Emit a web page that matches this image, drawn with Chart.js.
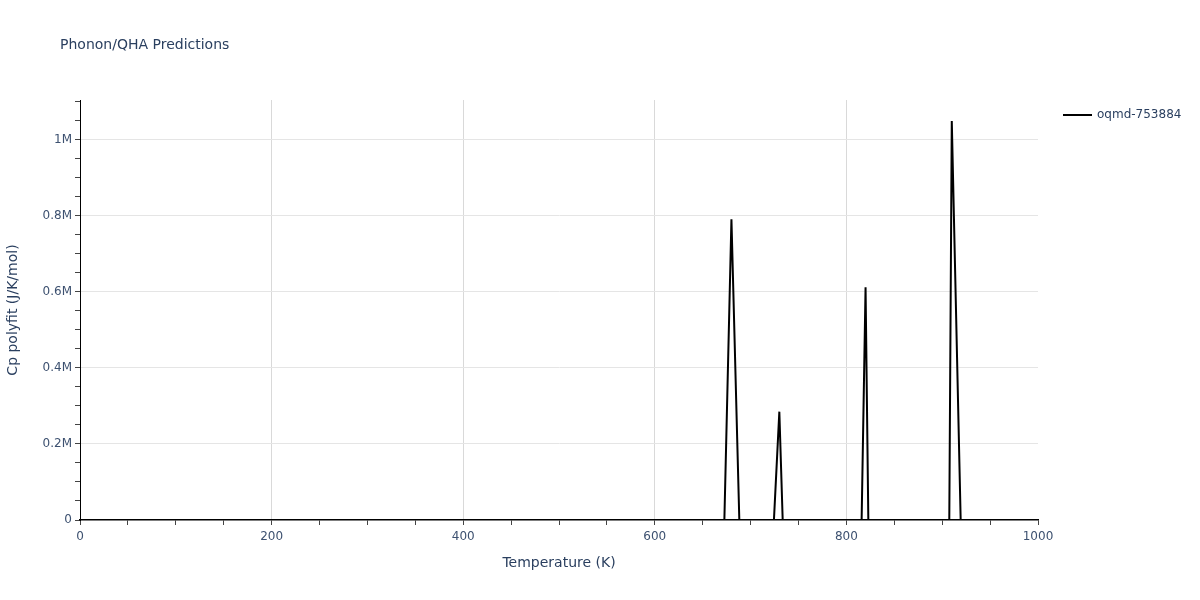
<!DOCTYPE html>
<html>
<head>
<meta charset="utf-8">
<script src="https://cdn.jsdelivr.net/npm/chart.js@4.4.1/dist/chart.umd.min.js"></script>
<style>
  html, body { margin: 0; padding: 0; background: #fff; }
  #wrap { width: 1200px; height: 600px; position: relative; }
</style>
</head>
<body>
<div id="wrap"><canvas id="c" width="1200" height="600"></canvas></div>
<script>
// ---- data ----
const chartTitle = "Phonon/QHA Predictions";
const seriesName = "oqmd-753884";
const xTitle = "Temperature (K)";
const yTitle = "Cp polyfit (J/K/mol)";

const temperatures = [
  0, 10, 20, 30, 40, 50, 60, 70, 80, 90,
  100, 110, 120, 130, 140, 150, 160, 170, 180, 190,
  200, 210, 220, 230, 240, 250, 260, 270, 280, 290,
  300, 310, 320, 330, 340, 350, 360, 370, 380, 390,
  400, 410, 420, 430, 440, 450, 460, 470, 480, 490,
  500, 510, 520, 530, 540, 550, 560, 570, 580, 590,
  600, 610, 620, 630, 640, 650, 660, 670, 680, 690,
  700, 710, 720, 730, 740, 750, 760, 770, 780, 790,
  800, 810, 820, 830, 840, 850, 860, 870, 880, 890,
  900, 910, 920, 930, 940, 950, 960, 970, 980, 990,
  1000
];

const cpValues = [
  0, 0.3, 2.5, 7.0, 12.5, 17.8, 22.4, 26.3, 29.5, 32.1,
  34.3, 36.1, 37.6, 38.9, 40.0, 40.9, 41.7, 42.4, 43.0, 43.5,
  44.0, 44.4, 44.7, 45.0, 45.3, 45.5, 45.7, 45.9, 46.1, 46.3,
  46.4, 46.6, 46.7, 46.8, 47.0, 47.1, 47.2, 47.3, 47.4, 47.5,
  47.6, 47.7, 47.8, 47.9, 48.0, 48.1, 48.2, 48.3, 48.4, 48.5,
  48.6, 48.7, 48.8, 48.9, 49.0, 49.1, 49.2, 49.3, -2100000, -3500000,
  -1900000, -2600000, -4100000, -1400000, -2200000, -900000, -1700000, -280000, 791000, -170000,
  -1300000, -2400000, -220000, 285000, -530000, -1800000, -3100000, -900000, -2500000, -1100000,
  -3300000, -880000, 612000, -1500000, -2700000, -600000, -1900000, -3600000, -1200000, -2200000,
  -2990000, 1050000, -80000, -1400000, -2900000, -700000, -2100000, -3800000, -1600000, -2400000,
  -1100000
];

const xTickValues = [0, 50, 100, 150, 200, 250, 300, 350, 400, 450, 500, 550, 600, 650, 700, 750, 800, 850, 900, 950, 1000];
const xLabelledTicks = [0, 200, 400, 600, 800, 1000];
const yTickValues = [0, 50000, 100000, 150000, 200000, 250000, 300000, 350000, 400000, 450000, 500000,
  550000, 600000, 650000, 700000, 750000, 800000, 850000, 900000, 950000, 1000000, 1050000, 1100000];
const yLabelledTicks = [0, 200000, 400000, 600000, 800000, 1000000];
const yTickLabels = ["0", "0.2M", "0.4M", "0.6M", "0.8M", "1M"];

// ---- style ----
const TEXT = "#2a3f5f";
const TICKTEXT = "#3d5170";
const FONT = "'DejaVu Sans', Verdana, sans-serif";

const overlay = {
  id: 'overlay',
  afterDraw(chart) {
    const ctx = chart.ctx;
    ctx.save();
    ctx.fillStyle = TEXT;
    ctx.textBaseline = 'middle';
    ctx.textAlign = 'left';
    ctx.font = "14px " + FONT;
    ctx.fillText(chartTitle, 60, 45);
    // legend
    ctx.strokeStyle = "#000";
    ctx.lineWidth = 2;
    ctx.beginPath();
    ctx.moveTo(1063, 115);
    ctx.lineTo(1092, 115);
    ctx.stroke();
    ctx.font = "12px " + FONT;
    ctx.fillText(seriesName, 1097, 115);
    ctx.restore();
  }
};

new Chart(document.getElementById('c'), {
  type: 'line',
  data: {
    labels: temperatures,
    datasets: [{
      label: seriesName,
      data: temperatures.map((t, i) => ({ x: t, y: cpValues[i] })),
      borderColor: '#000',
      borderWidth: 2,
      pointRadius: 0,
      tension: 0,
      fill: false
    }]
  },
  options: {
    responsive: false,
    animation: false,
    devicePixelRatio: 1,
    layout: { padding: { left: 0, right: 162, top: 100, bottom: 0 } },
    plugins: { legend: { display: false }, title: { display: false }, tooltip: { enabled: false } },
    scales: {
      x: {
        type: 'linear',
        min: 0, max: 1000,
        afterBuildTicks: (axis) => { axis.ticks = xTickValues.map(v => ({ value: v })); },
        afterFit: (axis) => { axis.height = 80; },
        border: { display: true, color: '#000', width: 1.5 },
        grid: {
          drawOnChartArea: true,
          color: (c) => (c.tick && xLabelledTicks.includes(c.tick.value) && c.tick.value !== 0 && c.tick.value !== 1000) ? '#d9d9d9' : 'rgba(0,0,0,0)',
          tickColor: '#444',
          tickLength: 5,
          lineWidth: 1
        },
        ticks: {
          autoSkip: false,
          maxRotation: 0,
          padding: 5,
          color: TICKTEXT,
          font: { family: FONT, size: 12 },
          callback: (v) => xLabelledTicks.includes(v) ? String(v) : ''
        },
        title: {
          display: true,
          text: xTitle,
          color: TEXT,
          font: { family: FONT, size: 14 },
          padding: { top: 0, bottom: 28 }
        }
      },
      y: {
        type: 'linear',
        min: 0, max: 1105000,
        afterBuildTicks: (axis) => { axis.ticks = yTickValues.map(v => ({ value: v })); },
        afterFit: (axis) => { axis.width = 80; },
        border: { display: true, color: '#000', width: 1 },
        grid: {
          drawOnChartArea: true,
          color: (c) => (c.tick && yLabelledTicks.includes(c.tick.value) && c.tick.value !== 0) ? '#e5e5e5' : 'rgba(0,0,0,0)',
          tickColor: '#444',
          tickLength: 5,
          lineWidth: 1
        },
        ticks: {
          autoSkip: false,
          padding: 3,
          color: TICKTEXT,
          font: { family: FONT, size: 12 },
          callback: (v) => { const i = yLabelledTicks.indexOf(v); return i >= 0 ? yTickLabels[i] : ''; }
        },
        title: {
          display: true,
          text: yTitle,
          color: TEXT,
          font: { family: FONT, size: 14 },
          padding: { top: 5, bottom: 0 }
        }
      }
    }
  },
  plugins: [overlay]
});
</script>
</body>
</html>
